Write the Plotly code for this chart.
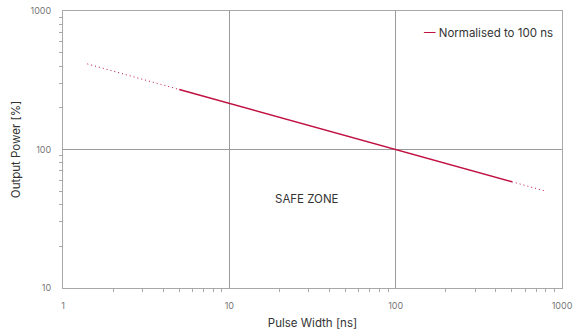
import plotly.graph_objects as go

# Output power vs pulse width, normalised to 100 ns (log-log)
solid_width_ns = [5, 10, 20, 50, 100, 200, 500]
solid_power_pct = [271, 215, 171, 126, 100, 79.4, 58.5]

low_width_ns = [1.4, 5]
low_power_pct = [415, 271]

high_width_ns = [500, 800]
high_power_pct = [58.5, 50]

x_ticks = [1, 10, 100, 1000]
y_ticks = [10, 100, 1000]
x_minor = [m * 10 ** e for e in range(3) for m in range(2, 10)]
y_minor = [m * 10 ** e for e in range(1, 3) for m in range(2, 10)]

line_color = "#c01040"
font_family = "Inter, 'Open Sans', sans-serif"
axis_gray = "#a8a8a8"

fig = go.Figure()
for xs, ys in ((low_width_ns, low_power_pct), (high_width_ns, high_power_pct)):
    fig.add_trace(go.Scatter(x=xs, y=ys, mode="lines",
                             line=dict(color=line_color, width=1, dash="1px,3px"),
                             showlegend=False, hoverinfo="skip"))
fig.add_trace(go.Scatter(x=solid_width_ns, y=solid_power_pct, mode="lines",
                         line=dict(color=line_color, width=1.5),
                         name="Normalised to 100 ns", showlegend=False))

axis_common = dict(
    type="log", automargin=False,
    showline=True, linecolor=axis_gray, linewidth=1, mirror=True,
    showgrid=True, gridcolor="#9a9a9a", gridwidth=1,
    zeroline=False,
    ticks="", tickfont=dict(size=9, color="#777777", family=font_family),
)

fig.update_xaxes(range=[0, 3], tickvals=x_ticks, ticktext=[str(v) for v in x_ticks],
                 ticklabelstandoff=9,
                 minor=dict(ticks="outside", ticklen=3, tickcolor=axis_gray,
                            tickvals=x_minor, showgrid=False),
                 title=dict(text="Pulse Width [ns]", font=dict(size=11.5, color="#333333", family=font_family),
                            standoff=9),
                 **axis_common)
fig.update_yaxes(range=[1, 3], tickvals=y_ticks, ticktext=[str(v) for v in y_ticks],
                 ticklabelstandoff=9,
                 minor=dict(ticks="outside", ticklen=3, tickcolor=axis_gray,
                            tickvals=y_minor, showgrid=False),
                 title=dict(text="Output Power [%]", font=dict(size=11.5, color="#333333", family=font_family),
                            standoff=7),
                 **axis_common)

fig.add_annotation(x=1.466, y=1.64, xref="x", yref="y", text="SAFE ZONE", showarrow=False,
                   font=dict(size=11.5, color="#333333", family=font_family))
fig.add_annotation(x=0.985, y=0.92, xref="paper", yref="paper", xanchor="right", yanchor="middle",
                   text=f'<span style="color:{line_color}">\u2014</span> Normalised to 100 ns',
                   showarrow=False, font=dict(size=11.5, color="#333333", family=font_family))

fig.update_layout(
    width=585, height=331,
    margin=dict(l=63, r=23, t=11, b=43),
    paper_bgcolor="white", plot_bgcolor="white",
    font=dict(family=font_family),
)

fig.write_html("out.html")
